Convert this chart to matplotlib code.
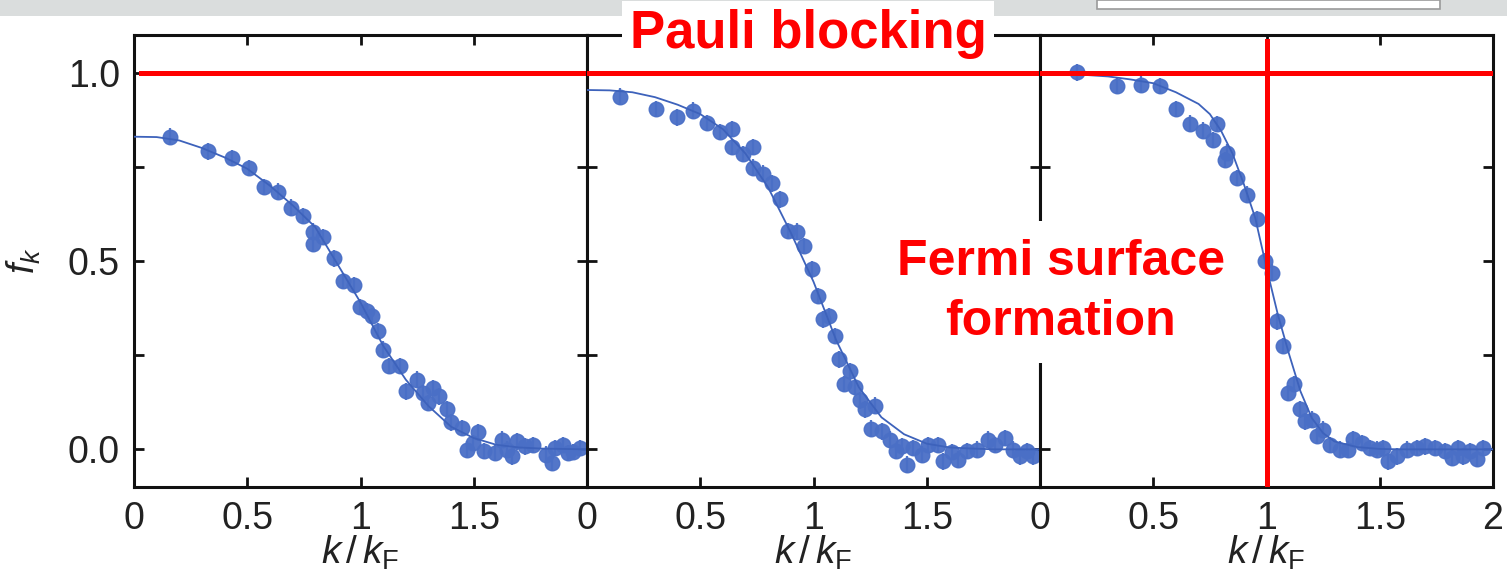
import matplotlib
matplotlib.use("Agg")
import matplotlib.pyplot as plt
from matplotlib.patches import Rectangle

plt.rcParams['font.family'] = ['Liberation Sans', 'DejaVu Sans']
plt.rcParams['mathtext.fontset'] = 'custom'
plt.rcParams['mathtext.it'] = 'Liberation Sans:italic'
plt.rcParams['mathtext.rm'] = 'Liberation Sans'

# ---------------- data ----------------
# Panel 1
x1 = [0.159, 0.328, 0.431, 0.508, 0.574, 0.637, 0.693, 0.747, 0.792, 0.792, 0.836, 0.883,
      0.921, 0.971, 0.998, 1.027, 1.049, 1.079, 1.101, 1.127, 1.174, 1.201, 1.251, 1.275,
      1.300, 1.322, 1.348, 1.380, 1.398, 1.447, 1.469, 1.498, 1.517, 1.545, 1.594, 1.623,
      1.645, 1.670, 1.690, 1.726, 1.763, 1.819, 1.844, 1.859, 1.892, 1.917, 1.939, 1.969]
y1 = [0.830, 0.791, 0.773, 0.747, 0.697, 0.684, 0.642, 0.620, 0.578, 0.546, 0.564, 0.507,
      0.447, 0.436, 0.378, 0.367, 0.354, 0.314, 0.265, 0.221, 0.221, 0.154, 0.185, 0.150,
      0.123, 0.163, 0.141, 0.106, 0.072, 0.057, -0.001, 0.017, 0.045, -0.004, -0.010, 0.026,
      -0.001, -0.019, 0.021, 0.008, 0.012, -0.014, -0.036, 0.003, 0.011, -0.010, -0.007, 0.003]
fit1_x = [0.0, 0.1, 0.2, 0.3, 0.4, 0.5, 0.6, 0.7, 0.8, 0.9, 1.0, 1.1, 1.2, 1.3, 1.4, 1.5,
          1.6, 1.7, 1.8, 1.9, 2.0]
fit1_y = [0.830, 0.829, 0.820, 0.800, 0.775, 0.745, 0.700, 0.648, 0.590, 0.490, 0.390,
          0.275, 0.185, 0.115, 0.060, 0.030, 0.012, 0.005, 0.002, 0.001, 0.000]

# Panel 2
x2 = [0.146, 0.305, 0.396, 0.469, 0.531, 0.587, 0.639, 0.639, 0.687, 0.731, 0.731, 0.776,
      0.815, 0.852, 0.889, 0.926, 0.960, 0.992, 1.021, 1.043, 1.070, 1.095, 1.114, 1.135,
      1.161, 1.183, 1.205, 1.227, 1.252, 1.272, 1.301, 1.338, 1.364, 1.389, 1.411, 1.441,
      1.478, 1.507, 1.551, 1.573, 1.610, 1.640, 1.676, 1.720, 1.772, 1.801, 1.845, 1.882,
      1.912, 1.941, 1.971]
y2 = [0.936, 0.903, 0.881, 0.899, 0.866, 0.843, 0.850, 0.803, 0.784, 0.803, 0.748, 0.732,
      0.706, 0.664, 0.580, 0.578, 0.540, 0.478, 0.407, 0.345, 0.354, 0.301, 0.239, 0.174,
      0.207, 0.165, 0.130, 0.106, 0.055, 0.116, 0.048, 0.026, -0.004, 0.008, -0.041, 0.004,
      -0.014, 0.012, 0.012, -0.032, -0.007, -0.027, -0.004, -0.001, 0.026, 0.012, 0.030,
      -0.001, -0.019, -0.005, -0.019]
fit2_x = [0.0, 0.1, 0.2, 0.3, 0.4, 0.5, 0.6, 0.7, 0.8, 0.9, 1.0, 1.1, 1.2, 1.3, 1.4, 1.5,
          1.6, 1.7, 1.8, 1.9, 2.0]
fit2_y = [0.954, 0.953, 0.948, 0.935, 0.915, 0.890, 0.850, 0.785, 0.695, 0.575, 0.445,
          0.290, 0.165, 0.085, 0.040, 0.015, 0.005, 0.002, 0.000, 0.000, 0.000]

# Panel 3
x3 = [0.162, 0.341, 0.446, 0.530, 0.599, 0.662, 0.718, 0.765, 0.780, 0.817, 0.827, 0.871,
      0.916, 0.960, 0.993, 1.023, 1.045, 1.074, 1.097, 1.123, 1.148, 1.170, 1.200, 1.222,
      1.251, 1.280, 1.325, 1.361, 1.381, 1.420, 1.457, 1.486, 1.516, 1.538, 1.575, 1.619,
      1.663, 1.700, 1.744, 1.788, 1.818, 1.847, 1.869, 1.898, 1.928, 1.955]
y3 = [1.001, 0.965, 0.968, 0.965, 0.903, 0.865, 0.846, 0.821, 0.864, 0.768, 0.788, 0.720,
      0.676, 0.611, 0.500, 0.469, 0.340, 0.274, 0.150, 0.174, 0.106, 0.074, 0.079, 0.035,
      0.052, 0.012, -0.001, -0.001, 0.028, 0.017, 0.003, -0.001, 0.003, -0.032, -0.019,
      -0.001, 0.003, 0.008, 0.003, -0.004, -0.023, 0.003, -0.019, -0.005, -0.025, 0.003]
fit3_x = [0.0, 0.1, 0.2, 0.3, 0.4, 0.5, 0.6, 0.7, 0.75, 0.8, 0.85, 0.9, 0.95, 1.0, 1.05,
          1.1, 1.15, 1.2, 1.25, 1.3, 1.4, 1.5, 1.6, 1.8, 2.0]
fit3_y = [0.998, 0.997, 0.994, 0.990, 0.982, 0.972, 0.948, 0.917, 0.890, 0.845, 0.785,
          0.704, 0.615, 0.482, 0.358, 0.252, 0.154, 0.083, 0.043, 0.021, 0.006, 0.001,
          0.000, 0.000, 0.000]

err = 0.022  # typical error bar half-length

panels_x = [x1, x2, x3]
panels_y = [y1, y2, y3]
fits_x = [fit1_x, fit2_x, fit3_x]
fits_y = [fit1_y, fit2_y, fit3_y]

yticks = [0.0, 0.25, 0.5, 0.75, 1.0]
ytick_labels = ['0.0', '', '0.5', '', '1.0']
xticks = [0, 0.5, 1, 1.5, 2]
xtick_labels_inner = ['0', '0.5', '1', '1.5', '']
xtick_labels_last = ['0', '0.5', '1', '1.5', '2']

pauli_text = 'Pauli blocking'
fermi_text = 'Fermi surface\nformation'
fermi_k = 1.0
pauli_level = 1.0

# ---------------- figure ----------------
W, H = 1507, 583
fig = plt.figure(figsize=(W / 100, H / 100), dpi=100)

blue = '#4a6fc6'
line_blue = '#3d62bb'
red = '#ff0000'

# slide-like top band
fig.patches.append(Rectangle((0, 1 - 16 / H), 1, 16 / H, transform=fig.transFigure,
                             facecolor='#dadddd', edgecolor='none', zorder=0))
fig.patches.append(Rectangle((1097 / W, 1 - 9 / H), (1440 - 1097) / W, 9 / H,
                             transform=fig.transFigure, facecolor='white',
                             edgecolor='#9a9a9a', linewidth=1.2, zorder=1))

left = 134 / W
pw = 453 / W
bottom = 1 - 487 / H
ph = (487 - 35) / H

axes = []
for i in range(3):
    ax = fig.add_axes([left + i * pw, bottom, pw, ph])
    axes.append(ax)
    ax.errorbar(panels_x[i], panels_y[i], yerr=err, fmt='o', color=blue, ms=10.5,
                mec=blue, mfc=blue, ecolor=blue, elinewidth=1.6, capsize=0,
                alpha=0.95, zorder=3)
    ax.plot(fits_x[i], fits_y[i], color=line_blue, lw=1.3, zorder=4)
    ax.set_xlim(0, 2)
    ax.set_ylim(-0.1, 1.1)
    ax.set_xticks(xticks)
    ax.set_xticklabels(xtick_labels_last if i == 2 else xtick_labels_inner)
    ax.set_yticks(yticks)
    if i == 0:
        ax.set_yticklabels(ytick_labels)
        ax.set_ylabel(r'$f_k$', fontsize=27, labelpad=18, color='#222222')
    else:
        ax.set_yticklabels([])
    ax.tick_params(direction='in', top=True, right=True, length=7, width=2,
                   labelsize=27, colors='#111111', labelcolor='#222222')
    ax.tick_params(axis='x', pad=10)
    ax.tick_params(axis='y', pad=10)
    for s in ax.spines.values():
        s.set_linewidth(2.2)
        s.set_color('#111111')
    ax.set_xlabel(r'$k\,/\,k_\mathrm{F}$', fontsize=28, labelpad=-2, color='#222222')
    # Pauli blocking level
    ax.axhline(pauli_level, xmin=0.015 if i == 0 else 0, color=red, lw=3.6, zorder=5)

# Fermi surface marker in last panel
axes[2].axvline(fermi_k, ymin=0, ymax=0.9875, color=red, lw=3.6, zorder=5)

fig.text(808 / W, 1 - 34 / H, pauli_text, color=red, fontsize=38, fontweight='bold',
         ha='center', va='center',
         bbox=dict(boxstyle='square,pad=0.15', facecolor='white', edgecolor='none'),
         zorder=10)
fig.text(1061 / W, 1 - 292 / H, fermi_text, color=red, fontsize=36, fontweight='bold',
         ha='center', va='center', multialignment='center', linespacing=1.4,
         bbox=dict(boxstyle='square,pad=0.35', facecolor='white', edgecolor='none'),
         zorder=10)

fig.savefig('out.png', dpi=100)
